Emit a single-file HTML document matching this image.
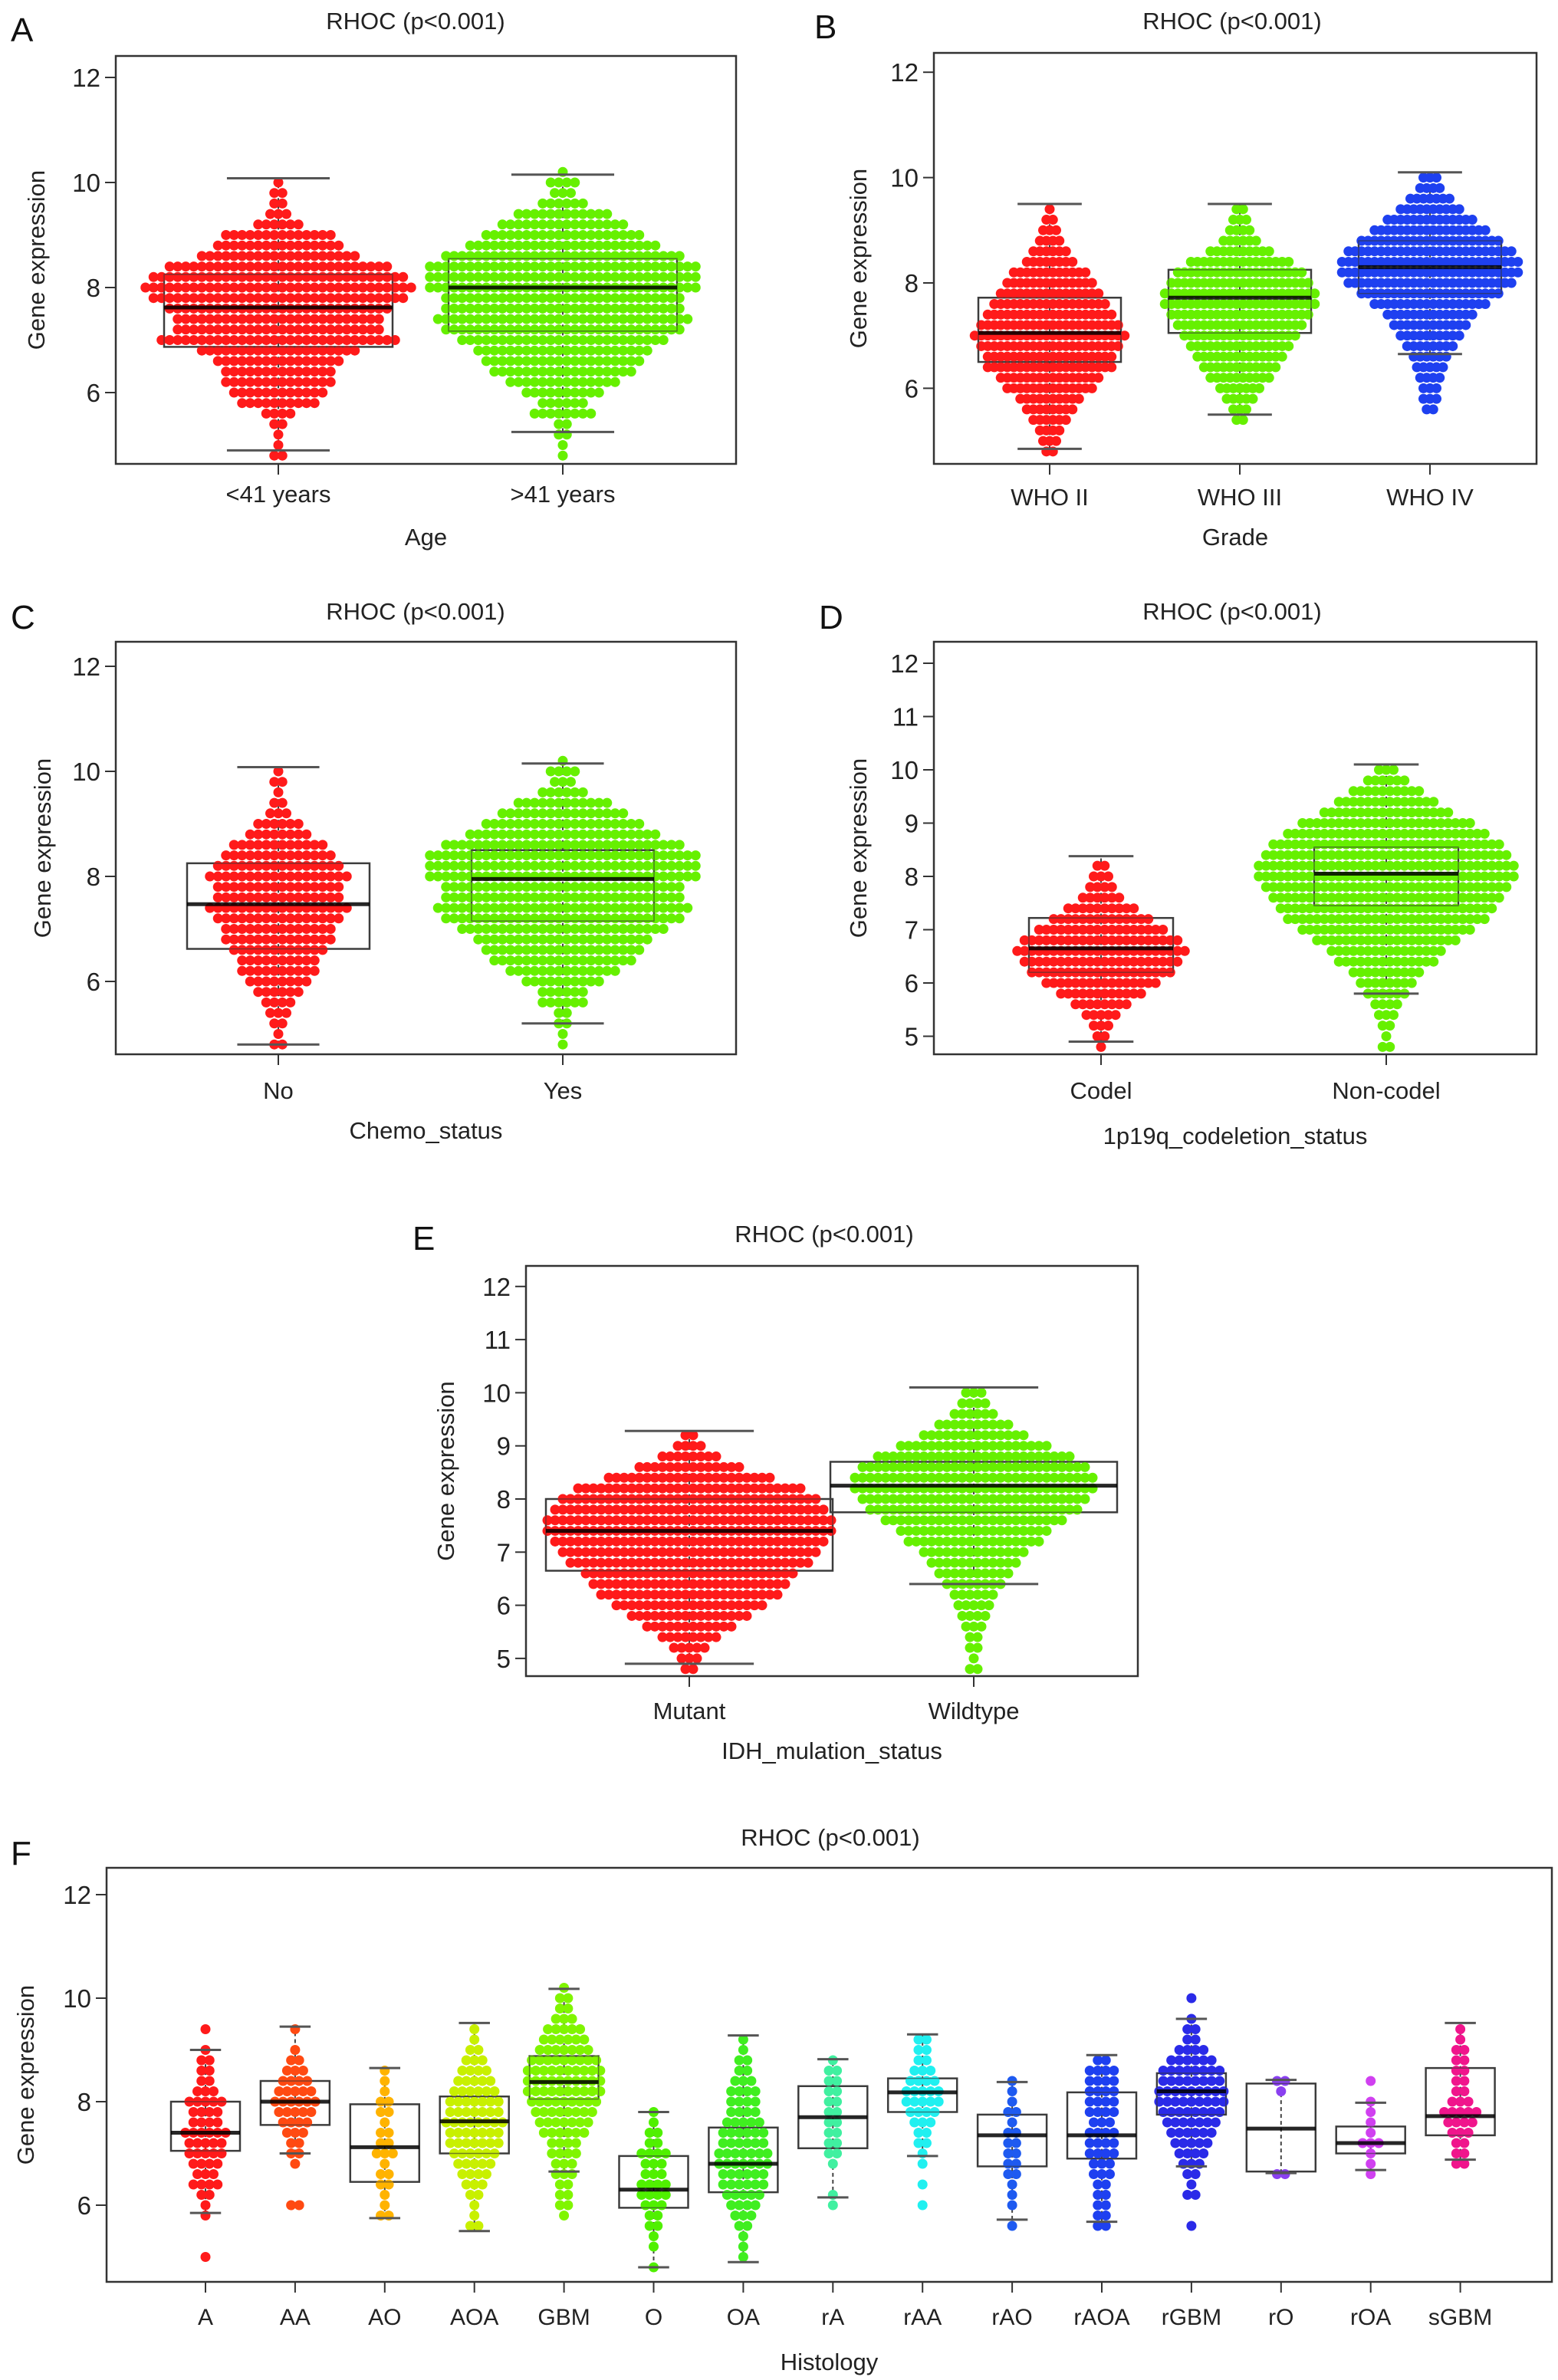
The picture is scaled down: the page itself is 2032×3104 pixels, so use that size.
<!DOCTYPE html>
<html><head><meta charset="utf-8"><style>
html,body{margin:0;padding:0;background:#fff;}
svg{display:block;font-family:"Liberation Sans",Arial,sans-serif;}
</style></head><body>
<svg id="fig" width="2032" height="3104" viewBox="0 0 2032 3104" xmlns="http://www.w3.org/2000/svg"></svg>
<script>
// ---- data (counts per 0.2 bin starting at 4.8) ----
const binStart = 4.8;
const binStep = 0.2;
// Panel A
const catsA = ["<41 years", ">41 years"];
const boxA = [[4.9,6.87,7.62,8.25,10.08],[5.25,7.17,8.0,8.55,10.15]];
const cntA0 = [2,1,1,2,4,10,12,14,14,16,20,30,26,26,28,32,34,32,28,20,16,14,6,3,2,2,1,0];
const cntA1 = [1,1,2,2,8,6,10,14,18,20,22,26,30,32,30,30,34,34,34,30,24,20,16,12,6,3,4,1];
// Panel B
const catsB = ["WHO II","WHO III","WHO IV"];
const boxB = [[4.85,6.5,7.05,7.72,9.5],[5.5,7.05,7.72,8.25,9.5],[6.65,7.8,8.3,8.8,10.1]];
const cntB0 = [2,3,4,6,8,10,14,16,20,20,22,24,22,20,18,16,14,12,8,6,4,3,2,1,0,0,0,0];
const cntB1 = [0,0,0,2,3,5,7,10,12,14,16,18,20,22,24,24,22,20,16,10,6,4,3,2,0,0,0,0];
const cntB2 = [0,0,0,0,2,3,3,4,5,6,8,10,12,14,18,22,26,28,28,26,22,18,14,10,7,4,3,0];
// Panel C
const catsC = ["No","Yes"];
const boxC = [[4.8,6.62,7.47,8.25,10.08],[5.2,7.15,7.95,8.5,10.15]];
const cntC0 = [2,1,2,3,4,6,8,10,10,12,14,14,16,18,16,16,18,16,14,12,8,6,3,2,1,2,1,0];
const cntC1 = [1,1,2,2,6,6,10,14,18,20,22,26,30,32,30,30,34,34,34,30,24,20,16,12,6,3,4,1];
// Panel D
const catsD = ["Codel","Non-codel"];
const boxD = [[4.9,6.2,6.65,7.22,8.38],[5.8,7.45,8.05,8.55,10.1]];
const cntD0 = [1,2,3,5,8,12,16,20,22,24,22,18,14,10,6,4,3,2,0,0,0,0,0,0,0,0,0,0];
const cntD1 = [2,1,2,3,4,6,8,10,14,16,20,24,28,30,32,34,36,36,34,32,28,24,18,14,10,6,3,0];
// Panel E
const catsE = ["Mutant","Wildtype"];
const boxE = [[4.9,6.65,7.4,8.0,9.28],[6.4,7.75,8.25,8.7,10.1]];
const cntE0 = [2,3,5,8,12,16,20,24,26,28,32,34,36,38,38,36,34,30,22,14,8,4,2,0,0,0,0,0];
const cntE1 = [2,1,2,2,3,4,5,6,8,10,12,14,18,20,24,28,30,32,32,30,26,20,14,10,6,4,3,0];
// Panel F
const catsF = ["A","AA","AO","AOA","GBM","O","OA","rA","rAA","rAO","rAOA","rGBM","rO","rOA","sGBM"];
const colorsF = ["#ff1a1a","#ff4a12","#ffb300","#c8f000","#80f500","#50f000","#40ee20","#40f0a0","#20f0f0","#1e5af0","#1e40f0","#2a2ae8","#8a40f0","#d040f0","#f0158c"];
const boxF = [[5.85,7.05,7.4,8.0,9.0],[7.0,7.55,8.0,8.4,9.45],[5.75,6.45,7.12,7.95,8.65],[5.5,7.0,7.62,8.1,9.52],[6.65,8.05,8.38,8.88,10.18],[4.8,5.95,6.3,6.95,7.8],[4.9,6.25,6.8,7.5,9.28],[6.15,7.1,7.7,8.3,8.82],[6.95,7.8,8.18,8.45,9.3],[5.72,6.75,7.35,7.75,8.38],[5.68,6.9,7.35,8.18,8.9],[6.75,7.75,8.2,8.55,9.6],[6.62,6.65,7.48,8.35,8.42],[6.68,7.0,7.2,7.52,7.98],[6.88,7.35,7.72,8.65,9.52]];
const cntF_A = [0,1,0,0,0,1,1,2,4,3,4,5,5,6,4,4,5,3,2,2,2,1,0,1,0,0,0,0];
const cntF_AA = [0,0,0,0,0,0,2,0,0,0,1,2,2,3,4,5,6,5,4,3,2,1,0,1,0,0,0,0];
const cntF_AO = [0,0,0,0,0,2,1,1,2,2,1,3,2,2,1,2,2,1,1,1,0,0,0,0,0,0,0,0];
const cntF_AOA = [0,0,0,0,2,1,1,2,3,4,5,6,7,7,8,7,7,6,5,4,3,2,1,1,0,0,0,0];
const cntF_GBM = [0,0,0,0,0,1,2,2,2,3,3,4,4,6,7,8,9,10,10,10,9,7,6,5,3,2,2,1];
const cntF_O = [1,0,1,1,2,2,3,4,4,3,3,4,2,2,1,1,0,0,0,0,0,0,0,0,0,0,0,0];
const cntF_OA = [0,1,1,1,2,3,4,5,6,6,7,7,6,6,5,4,4,4,3,2,2,1,1,0,0,0,0,0];
const cntF_rA = [0,0,0,0,0,0,1,1,0,0,1,2,2,2,2,2,2,2,2,2,1,0,0,0,0,0,0,0];
const cntF_rAA = [0,0,0,0,0,0,1,0,1,0,1,1,2,2,3,4,5,5,4,3,2,2,2,0,0,0,0,0];
const cntF_rAO = [0,0,0,0,1,0,1,1,1,2,2,2,2,2,1,2,1,1,1,0,0,0,0,0,0,0,0,0];
const cntF_rAOA = [0,0,0,0,2,2,2,2,2,3,3,4,4,4,3,4,4,4,4,4,2,0,0,0,0,0,0,0];
const cntF_rGBM = [0,0,0,0,1,0,0,2,1,2,3,4,5,6,7,8,9,9,8,8,6,4,2,2,1,0,1,0];
const cntF_rO = [0,0,0,0,0,0,0,0,0,2,0,0,0,0,0,0,0,1,2,0,0,0,0,0,0,0,0,0];
const cntF_rOA = [0,0,0,0,0,0,0,0,0,1,1,1,3,1,1,1,1,0,1,0,0,0,0,0,0,0,0,0];
const cntF_sGBM = [0,0,0,0,0,0,0,0,0,0,2,2,2,3,4,5,3,2,2,2,2,2,1,1,0,0,0,0];
const ticksAC = [6,8,10,12];
const ticksDE = [5,6,7,8,9,10,11,12];

const NS = "http://www.w3.org/2000/svg";
const svg = document.getElementById("fig");
function el(tag, attrs, parent, text){
  const e = document.createElementNS(NS, tag);
  for (const k in attrs) e.setAttribute(k, attrs[k]);
  if (text !== undefined) e.textContent = text;
  (parent || svg).appendChild(e);
  return e;
}

function panel(p){
  const g = el("g", {});
  
  
  const y = v => p.y0 - (v - p.v0) * p.k;
  const xc = i => p.x0 + i * p.dx;
  const lt = el("text", {x:p.lx, y:p.ly, "font-size":44, fill:"#111"}, g, p.id);
  
  
  const tt = el("text", {x:p.tx, y:p.ty, "font-size":31, "text-anchor":"middle", fill:"#222"}, g, "RHOC (p<0.001)");
  
  
  p.cats.forEach((c, i) => {
    const gg = el("g", {}, g);
    
    
    const cx = xc(i), b = p.box[i], hw = p.hw, cw = hw * 0.45;
    el("line", {x1:cx, x2:cx, y1:y(b[0]), y2:y(b[4]), stroke:"#444", "stroke-width":2, "stroke-dasharray":"5,4"}, gg);
    el("rect", {x:cx-hw, y:y(b[3]), width:2*hw, height:y(b[1])-y(b[3]), fill:"none", stroke:"#444", "stroke-width":2.5}, gg);
    const cnt = p.cnt[i];
    cnt.forEach((n, j) => {
      const v = binStart + j * binStep;
      for (let m = 0; m < n; m++){
        const dot = el("circle", {cx: cx + (m - (n-1)/2) * p.sp, cy: y(v), r: p.r, fill: p.col[i]}, gg);
        
        
      }
    });
    el("rect", {x:cx-hw, y:y(b[3]), width:2*hw, height:y(b[1])-y(b[3]), fill:"none", stroke:"#333", "stroke-width":1.5, "stroke-opacity":0.6}, gg);
    const md = el("line", {x1:cx-hw, x2:cx+hw, y1:y(b[2]), y2:y(b[2]), stroke:"#000", "stroke-width":5, "stroke-opacity":0.85}, gg);
    
    
    el("line", {x1:cx-cw, x2:cx+cw, y1:y(b[0]), y2:y(b[0]), stroke:"#555", "stroke-width":3}, gg);
    el("line", {x1:cx-cw, x2:cx+cw, y1:y(b[4]), y2:y(b[4]), stroke:"#555", "stroke-width":3}, gg);
    el("line", {x1:cx, x2:cx, y1:p.fb, y2:p.fb+14, stroke:"#333", "stroke-width":2}, g);
    const xl = el("text", {x:cx, y:p.xly, "font-size":p.xfs, "text-anchor":"middle", fill:"#222"}, g, c);
    
    
  });
  const fr = el("rect", {x:p.fl, y:p.ft, width:p.fr-p.fl, height:p.fb-p.ft, fill:"none", stroke:"#333", "stroke-width":2.5}, g);
  
  
  p.ticks.forEach(t => {
    el("line", {x1:p.fl-14, x2:p.fl, y1:y(t), y2:y(t), stroke:"#333", "stroke-width":2}, g);
    const yl = el("text", {x:p.fl-20, y:y(t)+12, "font-size":33, "text-anchor":"end", fill:"#222"}, g, String(t));
    
    
  });
  const cy = (p.ft + p.fb) / 2;
  const ya = el("text", {x:p.yax, y:cy, "font-size":31, "text-anchor":"middle", fill:"#222", transform:"rotate(-90 "+p.yax+" "+cy+")"}, g, "Gene expression");
  
  
  const xa = el("text", {x:(p.fl+p.fr)/2, y:p.xay, "font-size":31, "text-anchor":"middle", fill:"#222"}, g, p.xt);
  
  
}

const R = "#ff1a1a", G = "#66f000", Bl = "#1e40f0";
panel({id:"A", cats:catsA, box:boxA, cnt:[cntA0,cntA1], col:[R,G], fl:151, fr:960, ft:73, fb:605, y0:375, v0:8, k:68.5, x0:363, dx:371, hw:149, sp:10.5, r:6.5, ticks:ticksAC, lx:14, ly:54, tx:542, ty:38, xly:655, xfs:31, xay:711, xt:"Age", yax:58});
panel({id:"B", cats:catsB, box:boxB, cnt:[cntB0,cntB1,cntB2], col:[R,G,Bl], fl:1218, fr:2004, ft:69, fb:605, y0:369, v0:8, k:68.7, x0:1369, dx:248, hw:93, sp:8.5, r:6.5, ticks:ticksAC, lx:1062, ly:50, tx:1607, ty:38, xly:659, xfs:31, xay:711, xt:"Grade", yax:1130});
panel({id:"C", cats:catsC, box:boxC, cnt:[cntC0,cntC1], col:[R,G], fl:151, fr:960, ft:837, fb:1375, y0:1143, v0:8, k:68.5, x0:363, dx:371, hw:119, sp:10.5, r:6.5, ticks:ticksAC, lx:14, ly:820, tx:542, ty:808, xly:1433, xfs:31, xay:1485, xt:"Chemo_status", yax:66});
panel({id:"D", cats:catsD, box:boxD, cnt:[cntD0,cntD1], col:[R,G], fl:1218, fr:2004, ft:837, fb:1375, y0:1143, v0:8, k:69.5, x0:1436, dx:372, hw:94, sp:9.5, r:6.5, ticks:ticksDE, lx:1068, ly:820, tx:1607, ty:808, xly:1433, xfs:31, xay:1492, xt:"1p19q_codeletion_status", yax:1130});
panel({id:"E", cats:catsE, box:boxE, cnt:[cntE0,cntE1], col:[R,G], fl:686, fr:1484, ft:1651, fb:2186, y0:1955, v0:8, k:69.3, x0:899, dx:371, hw:187, sp:10, r:6.5, ticks:ticksDE, lx:538, ly:1630, tx:1075, ty:1620, xly:2242, xfs:31, xay:2294, xt:"IDH_mulation_status", yax:592});
panel({id:"F", cats:catsF, box:boxF, cnt:[cntF_A,cntF_AA,cntF_AO,cntF_AOA,cntF_GBM,cntF_O,cntF_OA,cntF_rA,cntF_rAA,cntF_rAO,cntF_rAOA,cntF_rGBM,cntF_rO,cntF_rOA,cntF_sGBM], col:colorsF, fl:139, fr:2024, ft:2436, fb:2976, y0:2741, v0:8, k:67.5, x0:268, dx:116.9, hw:45, sp:10.5, r:6.5, ticks:ticksAC, lx:14, ly:2432, tx:1083, ty:2407, xly:3032, xfs:30, xay:3091, xt:"Histology", yax:44});
</script>
</body></html>
